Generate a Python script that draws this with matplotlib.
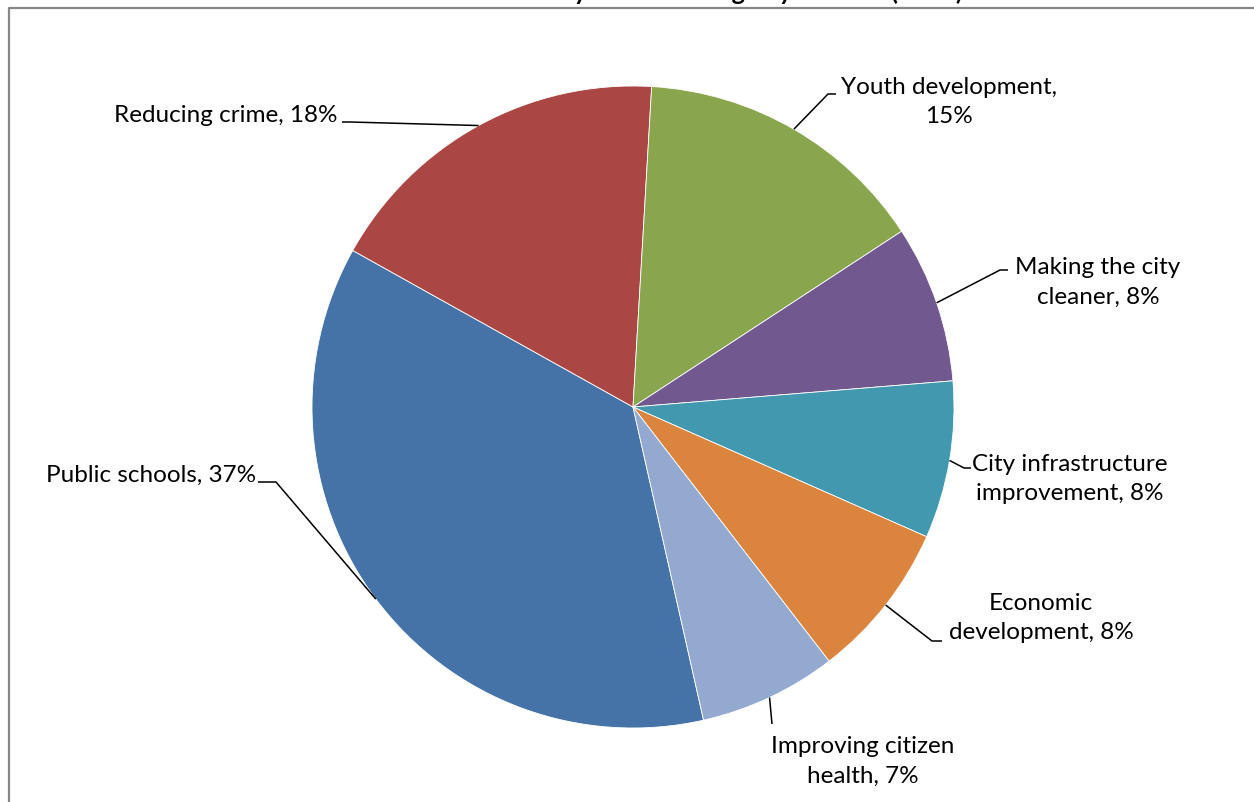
import matplotlib
matplotlib.use("Agg")
import matplotlib.pyplot as plt
import numpy as np

# chart data
categories = ["Public schools", "Reducing crime", "Youth development",
              "Making the city cleaner", "City infrastructure improvement",
              "Economic development", "Improving citizen health"]
shares = [37, 18, 15, 8, 8, 8, 7]
label_text = ["Public schools, 37%", "Reducing crime, 18%", "Youth development,\n15%",
              "Making the city\ncleaner, 8%", "City infrastructure\nimprovement, 8%",
              "Economic\ndevelopment, 8%", "Improving citizen\nhealth, 7%"]
colors = ["#4572A7", "#AA4643", "#89A54E", "#71588F", "#4198AF", "#DB843D", "#93A9CF"]
title = "Where should the Mayor be focusing city efforts? (2013)"

W, H = 1254, 803
plt.rcParams['font.family'] = ['Lato', 'DejaVu Sans']

fig = plt.figure(figsize=(W / 100, H / 100), dpi=100)
ax = fig.add_axes([0, 0, 1, 1])

cx, cy, r = 633, H - 408, 321
start = 90 - 167.3  # first slice begins a bit past 6 o'clock

wedges, _ = ax.pie(shares, colors=colors, startangle=start, counterclock=False,
                   center=(cx, cy), radius=r, frame=True,
                   wedgeprops=dict(edgecolor='white', linewidth=0.6))
ax.set_xlim(0, W)
ax.set_ylim(0, H)
ax.set_aspect('equal')
ax.axis('off')

# label layout: text position (px from top-left), alignment, elbow, stub end
layout = [
    (256, 475, 'right', (276, 483), (258, 483)),
    (337, 116, 'right', (350, 123), (342, 123)),
    (949, 102, 'center', (828, 95), (836, 95)),
    (1098, 282, 'center', (1000, 271), (1008, 271)),
    (1070, 479, 'center', (964, 469), (971, 469)),
    (1041, 618, 'center', (932, 642), (942, 642)),
    (863, 761, 'center', (772, 725), (772, 725)),
]

for w, txt, (tx, ty, ha, elbow, end) in zip(wedges, label_text, layout):
    mid = np.deg2rad((w.theta1 + w.theta2) / 2)
    ex, ey = cx + r * np.cos(mid), cy + r * np.sin(mid)
    xs = [ex, elbow[0], end[0]]
    ys = [ey, H - elbow[1], H - end[1]]
    ax.plot(xs, ys, color='black', lw=1.1, solid_capstyle='butt')
    ax.text(tx, H - ty, txt, ha=ha, va='center', fontsize=17.5,
            linespacing=1.52, multialignment='center', color='black')

# title sits above the frame, mostly cut off by the top edge
ax.text(647, H - 0.5, title, ha='center', va='baseline', fontsize=18,
        fontweight='bold', color='black', clip_on=False)

# chart area frame
ax.plot([8.5, 8.5, W + 10], [-10, H - 8.5, H - 8.5], color='#868686', lw=1.6,
        clip_on=False)

fig.savefig("out.png", dpi=100)
